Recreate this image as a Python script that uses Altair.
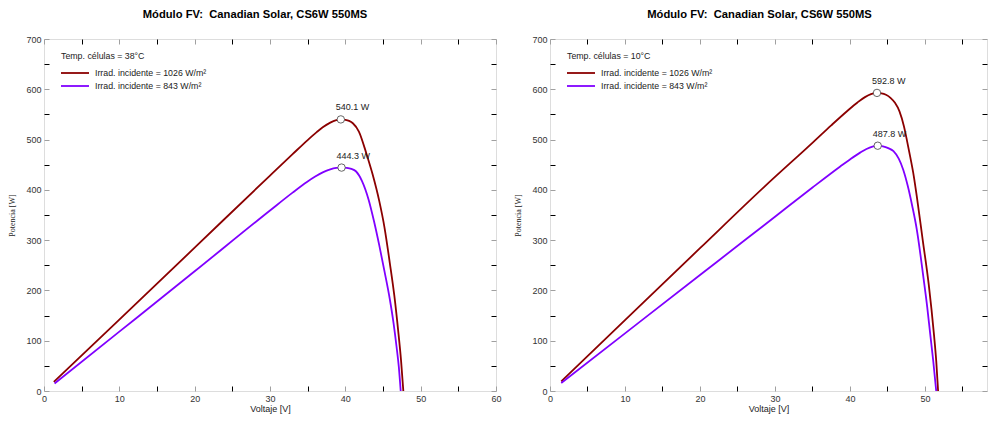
import altair as alt
import pandas as pd

FONT = "Liberation Sans"
TITLE = "Módulo FV: \u00a0Canadian Solar, CS6W 550MS"
SERIES = ["Irrad. incidente = 1026 W/m²", "Irrad. incidente = 843 W/m²"]
COLORS = ["#8b0000", "#8000ff"]
TEMPS = ["Temp. células = 38°C", "Temp. células = 10°C"]
X_TICKS = list(range(0, 61, 5))
Y_TICKS = list(range(0, 701, 50))

# Panel 1 (38 °C)
p1_red_v = [1.3, 10, 20, 30, 33, 35, 36.2, 37, 38, 38.8, 39.4, 40.0, 40.5, 41.0, 41.8, 42.8,
            43.6, 44.5, 45.2, 45.9, 46.5, 47.0, 47.4, 47.7]
p1_red_p = [18, 142, 285, 428.5, 471, 499, 514.7, 524.3, 533.8, 538.6, 540.1, 539.3, 537.2,
            532.5, 516, 472, 432, 378, 325, 255, 190, 122, 60, 0]
p1_pur_v = [1.4, 10, 20, 30, 33, 34.9, 36, 37, 38, 38.8, 39.5, 40.2, 40.8, 41.4, 42.2, 43.1,
            43.8, 44.5, 45.2, 45.9, 46.4, 46.8, 47.1, 47.35]
p1_pur_p = [15, 118, 238, 359, 394.5, 415.6, 426.4, 434.7, 440.7, 443.5, 444.3, 443.7, 441.8,
            437, 418, 380, 338, 290, 238, 183, 135, 88, 48, 0]
p1_mpp_v = [39.4, 39.5]
p1_mpp_p = [540.1, 444.3]

# Panel 2 (10 °C)
p2_red_v = [1.5, 10, 20, 28.5, 35.1, 37.5, 39.6, 41.0, 42.0, 42.8, 43.6, 44.2, 44.8, 45.4,
            46.0, 46.6, 47.2, 47.6, 48.0, 48.5, 48.9, 49.7, 50.5, 51.2, 51.5, 51.75]
p2_red_p = [19, 141, 284, 405, 495, 528.3, 556.4, 573.9, 584.4, 590.4, 592.8, 592, 589, 583,
            573, 556, 526, 498, 468, 428, 388, 300, 212, 112, 60, 0]
p2_pur_v = [1.5, 10, 20, 26.3, 30, 35, 38.7, 40, 41.4, 42.2, 43.0, 43.7, 44.4, 45.1, 45.8,
            46.5, 47.1, 47.7, 48.3, 48.9, 49.8, 50.3, 50.7, 51.1, 51.5]
p2_pur_p = [16, 114.6, 230.6, 303.7, 346.6, 404.6, 446.4, 460.5, 474.5, 481.3, 486, 487.8,
            486.6, 483, 477, 462, 440, 408, 368, 322, 225, 167, 113, 60, 0]
p2_mpp_v = [43.6, 43.7]
p2_mpp_p = [592.8, 487.8]


def make_panel(curves, mpp_v, mpp_p, temp, width, xmax, title_dx):
    rows = []
    for name, (vs, ps) in zip(SERIES, curves):
        for v, p in zip(vs, ps):
            rows.append({"serie": name, "V": v, "P": p})
    df = pd.DataFrame(rows)
    mpp = pd.DataFrame({"V": mpp_v, "P": mpp_p, "lab": [f"{p:.1f} W" for p in mpp_p]})

    xvals = [t for t in X_TICKS if t <= xmax]
    xs = alt.Scale(domain=[0, xmax], nice=False, zero=False)
    ys = alt.Scale(domain=[0, 700], nice=False, zero=False)
    xtc = {"condition": {"test": "datum.value % 10 === 0", "value": "#a0a0a0"}, "value": "#000000"}
    ytc = {"condition": {"test": "datum.value % 100 === 0", "value": "#a0a0a0"}, "value": "#000000"}

    x_bottom = alt.Axis(orient="bottom", values=xvals,
                        labelExpr="datum.value % 10 === 0 ? datum.label : ''",
                        tickSize=5, offset=-5, domain=False, grid=False, tickColor=xtc,
                        labelFont=FONT, labelFontSize=9, labelColor="#333333", labelPadding=3,
                        labelFlush=False, labelOverlap=False,
                        title="Voltaje [V]", titleFont=FONT, titleFontSize=9,
                        titleFontWeight="normal", titleColor="#222222", titlePadding=1)
    y_left = alt.Axis(orient="left", values=Y_TICKS,
                      labelExpr="datum.value % 100 === 0 ? datum.label : ''",
                      tickSize=5, offset=-5, domain=False, grid=False, tickColor=ytc,
                      labelFont=FONT, labelFontSize=9, labelColor="#333333", labelPadding=3,
                      labelFlush=False, labelOverlap=False,
                      title="Potencia [W]", titleFont="Liberation Serif", titleFontSize=8,
                      titleFontWeight="normal", titleColor="#222222", titlePadding=9)
    x_top = alt.Axis(orient="top", values=xvals, labels=False, title=None,
                     tickSize=5, offset=-5, domain=False, grid=False, tickColor=xtc)
    y_right = alt.Axis(orient="right", values=Y_TICKS, labels=False, title=None,
                       tickSize=5, offset=-5, domain=False, grid=False, tickColor=ytc)

    lines = alt.Chart(df).mark_line(strokeWidth=1.8, interpolate="monotone").encode(
        x=alt.X("V:Q", scale=xs, axis=x_bottom),
        y=alt.Y("P:Q", scale=ys, axis=y_left),
        color=alt.Color("serie:N", scale=alt.Scale(domain=SERIES, range=COLORS), legend=None),
    )
    pts = alt.Chart(mpp).mark_circle(color="white", stroke="#555555", strokeWidth=0.9,
                                     size=55, opacity=1).encode(
        x=alt.X("V:Q", scale=xs, axis=x_top),
        y=alt.Y("P:Q", scale=ys, axis=y_right),
    )
    txt = alt.Chart(mpp).mark_text(align="left", baseline="middle", dx=-5, dy=-12,
                                   font=FONT, fontSize=9, color="#222222").encode(
        x=alt.X("V:Q", scale=xs, axis=None),
        y=alt.Y("P:Q", scale=ys, axis=None),
        text="lab:N",
    )
    leg_title = alt.Chart(pd.DataFrame({"t": [temp]})).mark_text(
        align="left", baseline="middle", font=FONT, fontSize=8.8, color="#222222").encode(
        x=alt.value(17), y=alt.value(17), text="t:N")
    legend_layers = [leg_title]
    for i, (name, col) in enumerate(zip(SERIES, COLORS)):
        d = pd.DataFrame({"s": [name]})
        legend_layers.append(alt.Chart(d).mark_rule(strokeWidth=1.8, color=col).encode(
            x=alt.value(17), x2=alt.value(45), y=alt.value(34 + 13 * i)))
        legend_layers.append(alt.Chart(d).mark_text(
            align="left", baseline="middle", font=FONT, fontSize=8.8, color="#222222").encode(
            x=alt.value(51), y=alt.value(34 + 13 * i), text="s:N"))

    return alt.layer(lines, pts, txt, *legend_layers).resolve_axis(
        x="independent", y="independent"
    ).properties(
        width=width, height=352,
        title=alt.Title(TITLE, font=FONT, fontSize=11.2, fontWeight="bold", color="#000000",
                        offset=15, anchor="middle", dx=title_dx),
    )


left = make_panel([(p1_red_v, p1_red_p), (p1_pur_v, p1_pur_p)], p1_mpp_v, p1_mpp_p,
                  TEMPS[0], 452, 60, -15)
right = make_panel([(p2_red_v, p2_red_p), (p2_pur_v, p2_pur_p)], p2_mpp_v, p2_mpp_p,
                   TEMPS[1], 437, 58.27, -9)

chart = alt.hconcat(left, right, spacing=12).properties(padding=0).configure_view(
    stroke="black", strokeWidth=2
).configure(background="white")

chart.save("out.html", embed_options={"renderer": "svg", "actions": False})
